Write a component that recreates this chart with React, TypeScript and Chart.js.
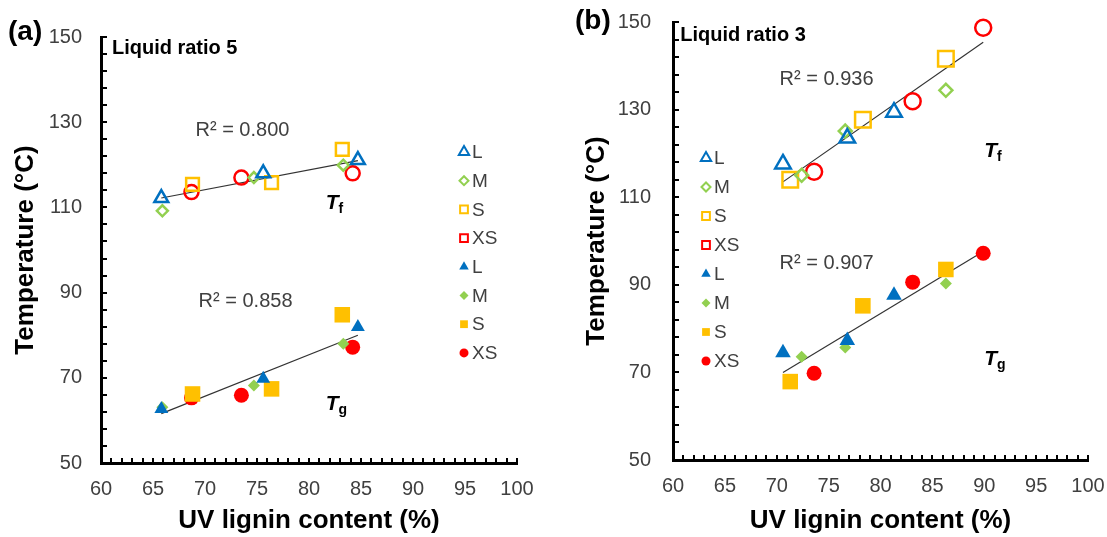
import React, { useEffect, useRef } from 'react';
import { Chart, registerables } from 'chart.js';
import { drawPoint } from 'chart.js/helpers';

Chart.register(...registerables);

const FONT = '"Liberation Sans", Arial, Helvetica, sans-serif';

// ---------- shared axes ----------
const X_TICKS = [60, 65, 70, 75, 80, 85, 90, 95, 100];
const Y_TICKS = [50, 70, 90, 110, 130, 150];
const X_MINOR_STEP = 1;
const Y_MINOR_STEP = 4;
const X_TITLE = 'UV lignin content (%)';
const Y_TITLE = 'Temperature (°C)';
const FRACTIONS = ['L', 'M', 'S', 'XS'];

// ---------- (a) Liquid ratio 5 ----------
const LR5_X_L = [65.8, 75.6, 84.7];
const LR5_X_M = [65.9, 74.7, 83.3];
const LR5_X_S = [68.8, 76.4, 83.2];
const LR5_X_XS = [68.7, 73.5, 84.2];
const LR5_TF_L = [112.2, 118.0, 121.1];
const LR5_TF_M = [109.2, 117.0, 119.9];
const LR5_TF_S = [115.4, 115.8, 123.6];
const LR5_TF_XS = [113.6, 117.0, 118.0];
const LR5_TG_L = [62.7, 69.8, 81.9];
const LR5_TG_M = [63.1, 68.2, 78.0];
const LR5_TG_S = [66.2, 67.4, 84.8];
const LR5_TG_XS = [65.3, 65.9, 77.2];
const LR5_TF_TREND_X = [65.8, 84.7];
const LR5_TF_TREND_Y = [112.2, 121.0];
const LR5_TG_TREND_X = [65.8, 84.7];
const LR5_TG_TREND_Y = [61.6, 80.0];
const LR5_R2 = ['R² = 0.800', 'R² = 0.858'];

// ---------- (b) Liquid ratio 3 ----------
const LR3_X_L = [70.6, 76.8, 81.3];
const LR3_X_M = [72.4, 76.6, 86.3];
const LR3_X_S = [71.3, 78.3, 86.3];
const LR3_X_XS = [73.6, 83.1, 89.9];
const LR3_TF_L = [117.6, 123.5, 129.4];
const LR3_TF_M = [115.0, 125.1, 134.4];
const LR3_TF_S = [114.0, 127.7, 141.6];
const LR3_TF_XS = [115.8, 131.9, 148.7];
const LR3_TG_L = [74.5, 77.3, 87.6];
const LR3_TG_M = [73.6, 75.7, 90.3];
const LR3_TG_S = [67.9, 85.2, 93.5];
const LR3_TG_XS = [69.8, 90.6, 97.2];
const LR3_TF_TREND_X = [70.6, 89.9];
const LR3_TF_TREND_Y = [113.5, 145.4];
const LR3_TG_TREND_X = [70.6, 89.9];
const LR3_TG_TREND_Y = [70.0, 97.6];
const LR3_R2 = ['R² = 0.936', 'R² = 0.907'];

const COLOR_L = '#0070C0';
const COLOR_M = '#92D050';
const COLOR_S = '#FFC000';
const COLOR_XS = '#FF0000';
const COLORS = [COLOR_L, COLOR_M, COLOR_S, COLOR_XS];
const STYLES = ['triangle', 'rectRot', 'rect', 'circle'];
const LEGEND_OPEN_STYLES = ['triangle', 'rectRot', 'rect', 'rect'];

const H = 537;

function buildSeries(xs, tf, tg, openR, fillR) {
  const open = FRACTIONS.map((f, i) => ({
    label: f, xs: xs[i], ys: tf[i], color: COLORS[i], style: STYLES[i], open: true,
    radius: openR[i], legendStyle: LEGEND_OPEN_STYLES[i], legendRadius: [6, 4.5, 5.5, 5.5][i],
  }));
  const filled = FRACTIONS.map((f, i) => ({
    label: f, xs: xs[i], ys: tg[i], color: COLORS[i], style: STYLES[i], open: false,
    radius: fillR[i], legendStyle: STYLES[i], legendRadius: [5.5, 4.5, 5.5, 4.5][i],
  }));
  return [...open, ...filled];
}

const PANEL_A = {
  key: 'a',
  canvasWidth: 553,
  area: { left: 101, right: 517, top: 37, bottom: 463 },
  yTickPad: 19,
  yTitlePad: 10,
  tag: '(a)', tagX: 8, tagY: 32,
  caption: 'Liquid ratio 5', captionAt: [61.05, 147.3],
  series: buildSeries(
    [LR5_X_L, LR5_X_M, LR5_X_S, LR5_X_XS],
    [LR5_TF_L, LR5_TF_M, LR5_TF_S, LR5_TF_XS],
    [LR5_TG_L, LR5_TG_M, LR5_TG_S, LR5_TG_XS],
    [8, 5.5, 9, 7], [8, 6, 11, 7.5]
  ),
  trends: [
    { xs: LR5_TF_TREND_X, ys: LR5_TF_TREND_Y },
    { xs: LR5_TG_TREND_X, ys: LR5_TG_TREND_Y },
  ],
  notes: [
    { text: LR5_R2[0], at: [73.6, 128.0] },
    { text: LR5_R2[1], at: [73.9, 88.0] },
  ],
  temps: [
    { sub: 'f', at: [81.6, 111.0] },
    { sub: 'g', at: [81.6, 63.9] },
  ],
  legendX: 464, legendTop: 152, legendStep: 28.7,
};

const PANEL_B = {
  key: 'b',
  canvasWidth: 554,
  area: { left: 120, right: 535, top: 22, bottom: 460 },
  yTickPad: 22,
  yTitlePad: 28,
  tag: '(b)', tagX: 22, tagY: 21,
  caption: 'Liquid ratio 3', captionAt: [60.7, 147.0],
  series: buildSeries(
    [LR3_X_L, LR3_X_M, LR3_X_S, LR3_X_XS],
    [LR3_TF_L, LR3_TF_M, LR3_TF_S, LR3_TF_XS],
    [LR3_TG_L, LR3_TG_M, LR3_TG_S, LR3_TG_XS],
    [9, 6.5, 11, 8], [9, 6, 11, 7.5]
  ),
  trends: [
    { xs: LR3_TF_TREND_X, ys: LR3_TF_TREND_Y },
    { xs: LR3_TG_TREND_X, ys: LR3_TG_TREND_Y },
  ],
  notes: [
    { text: LR3_R2[0], at: [74.8, 136.9] },
    { text: LR3_R2[1], at: [74.8, 94.8] },
  ],
  temps: [
    { sub: 'f', at: [90.0, 120.5] },
    { sub: 'g', at: [90.0, 73.0] },
  ],
  legendX: 153, legendTop: 158, legendStep: 29,
};

function makeDecor(panel) {
  return {
    id: 'decor_' + panel.key,
    afterDraw(chart) {
      const { ctx, chartArea: a, scales } = chart;
      const xs = scales.x;
      const ys = scales.y;
      ctx.save();
      // inner minor ticks
      ctx.strokeStyle = '#000';
      ctx.lineWidth = 2;
      ctx.beginPath();
      for (let v = X_TICKS[0]; v <= X_TICKS[X_TICKS.length - 1] + 1e-9; v += X_MINOR_STEP) {
        const px = Math.round(xs.getPixelForValue(v));
        ctx.moveTo(px, a.bottom);
        ctx.lineTo(px, a.bottom - 5);
      }
      for (let v = Y_TICKS[0]; v <= Y_TICKS[Y_TICKS.length - 1] + 1e-9; v += Y_MINOR_STEP) {
        const py = Math.round(ys.getPixelForValue(v));
        ctx.moveTo(a.left, py);
        ctx.lineTo(a.left + 6, py);
      }
      ctx.stroke();

      // R² notes
      ctx.fillStyle = '#404040';
      ctx.font = `20px ${FONT}`;
      ctx.textAlign = 'center';
      ctx.textBaseline = 'middle';
      for (const n of panel.notes) {
        ctx.fillText(n.text, xs.getPixelForValue(n.at[0]), ys.getPixelForValue(n.at[1]));
      }

      // T_f / T_g
      ctx.fillStyle = '#000';
      ctx.textAlign = 'left';
      for (const t of panel.temps) {
        const px = xs.getPixelForValue(t.at[0]);
        const py = ys.getPixelForValue(t.at[1]);
        ctx.font = `italic bold 21px ${FONT}`;
        ctx.fillText('T', px, py);
        const w = ctx.measureText('T').width;
        ctx.font = `bold 14px ${FONT}`;
        ctx.fillText(t.sub, px + w, py + 6);
      }

      // caption
      ctx.font = `bold 20px ${FONT}`;
      ctx.fillText(panel.caption, xs.getPixelForValue(panel.captionAt[0]), ys.getPixelForValue(panel.captionAt[1]));

      // panel tag
      ctx.font = `bold 28px ${FONT}`;
      ctx.fillText(panel.tag, panel.tagX, panel.tagY);

      // legend
      panel.series.forEach((s, i) => {
        const y = panel.legendTop + i * panel.legendStep;
        ctx.fillStyle = s.open ? 'rgba(0,0,0,0)' : s.color;
        ctx.strokeStyle = s.color;
        ctx.lineWidth = 2;
        drawPoint(ctx, { pointStyle: s.legendStyle, radius: s.legendRadius, rotation: 0, borderWidth: s.open ? 2 : 0 }, panel.legendX, y);
        ctx.fillStyle = '#404040';
        ctx.font = `19px ${FONT}`;
        ctx.textAlign = 'left';
        ctx.textBaseline = 'middle';
        ctx.fillText(s.label, panel.legendX + 8, y + 1);
      });
      ctx.restore();
    },
  };
}

function Panel({ panel, left }) {
  const ref = useRef(null);
  useEffect(() => {
    const a = panel.area;
    const datasets = [
      ...panel.series.map((s) => ({
        label: s.label,
        data: s.xs.map((x, i) => ({ x, y: s.ys[i] })),
        pointStyle: s.style,
        pointRadius: s.radius,
        pointHoverRadius: s.radius,
        pointBorderWidth: s.open ? 2.5 : 0,
        pointBackgroundColor: s.open ? 'rgba(0,0,0,0)' : s.color,
        pointBorderColor: s.color,
        showLine: false,
        clip: false,
      })),
      ...panel.trends.map((t) => ({
        label: 'trend',
        data: t.xs.map((x, i) => ({ x, y: t.ys[i] })),
        showLine: true,
        borderColor: '#333',
        borderWidth: 1.2,
        pointRadius: 0,
        fill: false,
        clip: false,
      })),
    ];
    const chart = new Chart(ref.current, {
      type: 'scatter',
      data: { datasets },
      options: {
        animation: false,
        responsive: false,
        devicePixelRatio: 1,
        layout: { padding: { left: 0, top: a.top, right: panel.canvasWidth - a.right, bottom: 0 } },
        plugins: { legend: { display: false }, tooltip: { enabled: false } },
        scales: {
          x: {
            type: 'linear',
            min: X_TICKS[0],
            max: X_TICKS[X_TICKS.length - 1],
            afterBuildTicks: (s) => { s.ticks = X_TICKS.map((v) => ({ value: v })); },
            afterFit: (s) => { s.height = H - a.bottom; },
            grid: { display: false, drawTicks: true, tickLength: 14 },
            border: { display: true, color: '#000', width: 3 },
            ticks: { font: { family: FONT, size: 20 }, color: '#404040', padding: 0, maxRotation: 0, autoSkip: false },
            title: {
              display: true, text: X_TITLE, color: '#000',
              font: { family: FONT, size: 26, weight: 'bold', lineHeight: 1.2 },
              padding: { top: 0, bottom: 1 },
            },
          },
          y: {
            type: 'linear',
            min: Y_TICKS[0],
            max: Y_TICKS[Y_TICKS.length - 1],
            afterBuildTicks: (s) => { s.ticks = Y_TICKS.map((v) => ({ value: v })); },
            afterFit: (s) => { s.width = a.left; },
            grid: { display: false, drawTicks: true, tickLength: panel.yTickPad },
            border: { display: true, color: '#000', width: 3 },
            ticks: { font: { family: FONT, size: 20 }, color: '#404040', padding: 0, autoSkip: false },
            title: {
              display: true, text: Y_TITLE, color: '#000',
              font: { family: FONT, size: 26, weight: 'bold', lineHeight: 1.2 },
              padding: { top: panel.yTitlePad, bottom: 0 },
            },
          },
        },
      },
      plugins: [makeDecor(panel)],
    });
    return () => chart.destroy();
  }, [panel]);
  return (
    <canvas
      ref={ref}
      width={panel.canvasWidth}
      height={H}
      style={{ position: 'absolute', left, top: 0, width: panel.canvasWidth, height: H }}
    />
  );
}

export default function App() {
  return (
    <div style={{ position: 'fixed', left: 0, top: 0, width: 1107, height: H, background: '#fff', overflow: 'hidden' }}>
      <Panel panel={PANEL_A} left={0} />
      <Panel panel={PANEL_B} left={553} />
    </div>
  );
}
